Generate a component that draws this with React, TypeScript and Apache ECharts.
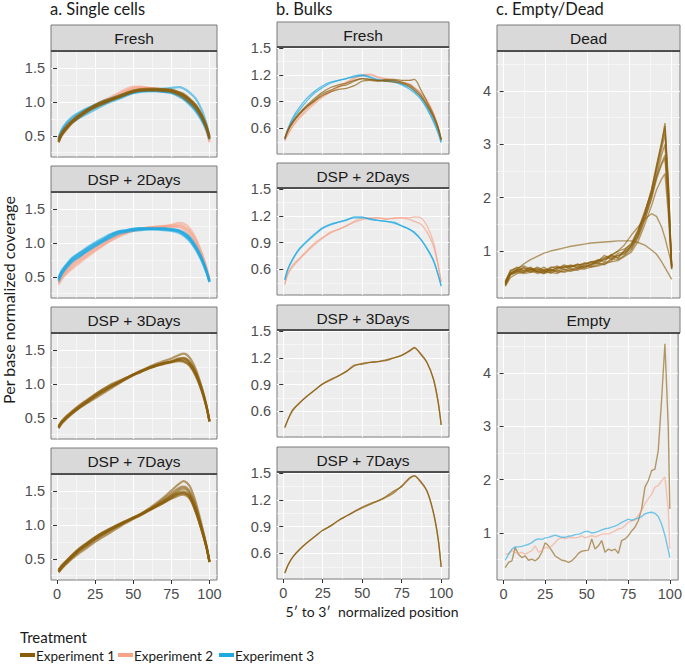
import React, { useEffect, useRef } from 'react';
import * as echarts from 'echarts';

// ---------- categories / labels ----------
const EXPERIMENTS = ['Experiment 1', 'Experiment 2', 'Experiment 3'];
const EXP_COLORS = ['#8B5D0A', '#F7A38A', '#1EA9E1'];
const COLUMN_TITLES = ['a. Single cells', 'b. Bulks', 'c. Empty/Dead'];
const X_MAJOR = [0, 25, 50, 75, 100];
const X_MINOR = [12.5, 37.5, 62.5, 87.5];
const Y_MAJOR_A = [0.5, 1.0, 1.5];
const Y_MINOR_A = [0.25, 0.75, 1.25];
const Y_MAJOR_B = [0.6, 0.9, 1.2, 1.5];
const Y_MINOR_B = [0.45, 0.75, 1.05, 1.35];
const Y_MAJOR_C = [1, 2, 3, 4];
const Y_MINOR_C = [0.5, 1.5, 2.5, 3.5, 4.5];

// ---------- x positions ----------
const XPOS = [1, 3, 6, 10, 15, 20, 25, 30, 35, 40, 45, 50, 55, 60, 65, 70, 75, 80, 83, 87, 91, 95, 98, 100];
const XDEAD = [1, 4, 8, 12, 16, 20, 24, 28, 32, 36, 40, 44, 48, 52, 56, 60, 64, 68, 72, 76, 80, 84, 88, 91, 94, 96, 98, 100];
const XEMPTY = [1, 3, 5, 7, 9, 11, 13, 15, 17, 19, 21, 23, 25, 27, 29, 31, 33, 35, 37, 39, 41, 43, 45, 47, 49, 51, 53, 55, 57, 59, 61, 63, 65, 67, 69, 71, 73, 75, 77, 79, 81, 83, 85, 87, 89, 91, 93, 95, 97, 99, 100];

// ---------- a. Single cells ----------
const cellsFreshExp1 = [
  [0.43,0.52,0.61,0.71,0.80,0.88,0.94,0.99,1.03,1.07,1.12,1.16,1.18,1.18,1.18,1.17,1.16,1.12,1.09,1.02,0.93,0.78,0.63,0.47],
  [0.40,0.50,0.59,0.69,0.78,0.86,0.93,0.98,1.03,1.08,1.13,1.17,1.19,1.19,1.19,1.19,1.18,1.14,1.11,1.04,0.95,0.80,0.64,0.46],
  [0.46,0.55,0.64,0.73,0.82,0.89,0.95,1.00,1.04,1.07,1.11,1.15,1.17,1.17,1.17,1.16,1.15,1.10,1.06,0.99,0.90,0.76,0.61,0.48],
  [0.42,0.53,0.62,0.72,0.81,0.89,0.96,1.01,1.05,1.09,1.13,1.17,1.19,1.20,1.20,1.19,1.18,1.15,1.12,1.05,0.96,0.81,0.65,0.49],
  [0.41,0.51,0.60,0.70,0.79,0.87,0.92,0.97,1.02,1.06,1.11,1.15,1.17,1.18,1.18,1.18,1.17,1.13,1.10,1.03,0.94,0.79,0.62,0.45],
];
const cellsFreshExp2 = [
  [0.42,0.52,0.61,0.71,0.80,0.88,0.95,1.01,1.07,1.13,1.19,1.23,1.23,1.21,1.20,1.19,1.17,1.13,1.09,1.01,0.91,0.76,0.60,0.42],
  [0.40,0.50,0.59,0.69,0.78,0.86,0.93,0.99,1.05,1.10,1.16,1.21,1.22,1.21,1.20,1.18,1.16,1.12,1.08,1.00,0.90,0.74,0.57,0.40],
  [0.43,0.53,0.62,0.72,0.81,0.89,0.96,1.02,1.06,1.11,1.16,1.20,1.21,1.20,1.19,1.18,1.17,1.14,1.10,1.02,0.92,0.77,0.61,0.44],
];
const cellsFreshExp3 = [
  [0.45,0.57,0.67,0.76,0.84,0.90,0.95,0.99,1.03,1.07,1.11,1.14,1.16,1.17,1.17,1.16,1.15,1.11,1.07,0.99,0.89,0.74,0.60,0.46],
  [0.47,0.59,0.69,0.78,0.85,0.91,0.96,1.01,1.05,1.09,1.12,1.15,1.16,1.16,1.16,1.15,1.13,1.08,1.04,0.96,0.86,0.72,0.58,0.45],
  [0.44,0.54,0.63,0.72,0.80,0.86,0.92,0.97,1.02,1.06,1.10,1.14,1.17,1.18,1.19,1.20,1.21,1.22,1.20,1.14,1.05,0.88,0.68,0.50],
  [0.43,0.53,0.62,0.70,0.77,0.83,0.89,0.95,1.00,1.04,1.09,1.13,1.15,1.16,1.16,1.15,1.14,1.10,1.06,0.98,0.88,0.75,0.61,0.47],
];
const cells2DaysExp2 = [
  [0.40,0.48,0.56,0.65,0.74,0.82,0.90,0.97,1.04,1.10,1.15,1.18,1.20,1.22,1.23,1.24,1.25,1.25,1.23,1.16,1.02,0.82,0.62,0.45],
  [0.42,0.50,0.58,0.67,0.76,0.84,0.92,0.99,1.06,1.12,1.16,1.19,1.21,1.23,1.24,1.25,1.27,1.30,1.29,1.22,1.07,0.85,0.64,0.46],
  [0.38,0.46,0.54,0.62,0.71,0.80,0.88,0.96,1.03,1.09,1.14,1.18,1.21,1.23,1.24,1.24,1.24,1.23,1.20,1.12,0.98,0.79,0.60,0.44],
  [0.43,0.52,0.61,0.70,0.79,0.87,0.94,1.01,1.07,1.13,1.17,1.20,1.22,1.23,1.24,1.25,1.26,1.27,1.25,1.18,1.04,0.83,0.63,0.46],
];
const cells2DaysExp3 = [
  [0.46,0.56,0.65,0.75,0.83,0.91,0.98,1.04,1.11,1.16,1.18,1.20,1.21,1.21,1.21,1.21,1.20,1.18,1.14,1.06,0.93,0.76,0.58,0.43],
  [0.43,0.53,0.62,0.72,0.80,0.88,0.95,1.02,1.08,1.13,1.16,1.18,1.19,1.20,1.20,1.19,1.18,1.15,1.11,1.03,0.90,0.73,0.56,0.42],
  [0.49,0.59,0.68,0.78,0.86,0.94,1.01,1.07,1.13,1.17,1.19,1.21,1.22,1.22,1.22,1.22,1.21,1.19,1.16,1.09,0.96,0.78,0.60,0.44],
  [0.45,0.55,0.64,0.74,0.81,0.89,0.96,1.03,1.09,1.15,1.17,1.19,1.20,1.21,1.21,1.20,1.19,1.17,1.13,1.05,0.92,0.74,0.57,0.42],
  [0.47,0.58,0.67,0.77,0.85,0.92,0.99,1.05,1.12,1.17,1.19,1.21,1.22,1.21,1.21,1.21,1.20,1.18,1.15,1.08,0.95,0.77,0.59,0.44],
];
const cells3DaysExp1 = [
  [0.36,0.43,0.50,0.58,0.67,0.75,0.83,0.90,0.96,1.02,1.08,1.14,1.19,1.24,1.28,1.31,1.33,1.36,1.36,1.30,1.15,0.91,0.67,0.45],
  [0.34,0.41,0.48,0.56,0.65,0.73,0.81,0.88,0.95,1.01,1.07,1.13,1.18,1.23,1.27,1.30,1.33,1.37,1.38,1.32,1.17,0.92,0.67,0.44],
  [0.38,0.45,0.52,0.60,0.69,0.77,0.85,0.92,0.98,1.03,1.09,1.14,1.19,1.23,1.27,1.30,1.32,1.34,1.33,1.27,1.12,0.89,0.66,0.45],
  [0.35,0.42,0.49,0.57,0.66,0.74,0.82,0.89,0.96,1.02,1.08,1.14,1.20,1.25,1.30,1.34,1.38,1.43,1.45,1.39,1.22,0.95,0.69,0.46],
  [0.36,0.43,0.50,0.57,0.65,0.72,0.79,0.86,0.93,1.00,1.07,1.13,1.18,1.23,1.27,1.31,1.34,1.38,1.39,1.33,1.18,0.93,0.68,0.44],
  [0.37,0.44,0.51,0.59,0.68,0.76,0.84,0.92,0.99,1.04,1.09,1.14,1.19,1.24,1.28,1.31,1.33,1.35,1.34,1.28,1.13,0.90,0.66,0.45],
];
const cells7DaysExp1 = [
  [0.32,0.38,0.45,0.54,0.64,0.72,0.80,0.87,0.93,0.99,1.05,1.10,1.16,1.22,1.28,1.35,1.43,1.49,1.50,1.44,1.22,0.93,0.68,0.46],
  [0.30,0.36,0.43,0.52,0.62,0.70,0.78,0.85,0.92,0.98,1.04,1.10,1.16,1.23,1.30,1.38,1.47,1.55,1.57,1.50,1.28,0.96,0.69,0.45],
  [0.34,0.40,0.47,0.56,0.66,0.74,0.82,0.89,0.95,1.01,1.06,1.11,1.16,1.21,1.27,1.33,1.39,1.44,1.45,1.39,1.19,0.91,0.67,0.46],
  [0.31,0.37,0.44,0.53,0.63,0.71,0.79,0.86,0.93,0.99,1.05,1.11,1.17,1.24,1.32,1.41,1.51,1.61,1.65,1.58,1.34,0.99,0.70,0.46],
  [0.33,0.39,0.46,0.55,0.65,0.73,0.81,0.88,0.94,1.00,1.06,1.11,1.16,1.22,1.28,1.34,1.41,1.47,1.47,1.41,1.20,0.92,0.67,0.45],
  [0.30,0.35,0.42,0.50,0.59,0.67,0.75,0.82,0.89,0.96,1.03,1.09,1.15,1.22,1.29,1.36,1.44,1.52,1.54,1.47,1.25,0.95,0.69,0.46],
  [0.32,0.39,0.46,0.55,0.65,0.74,0.82,0.89,0.95,1.00,1.05,1.10,1.15,1.21,1.27,1.33,1.40,1.46,1.48,1.42,1.21,0.92,0.67,0.45],
];

// ---------- b. Bulks ----------
const bulkFreshExp1 = [
  [0.49,0.57,0.67,0.76,0.85,0.92,0.99,1.03,1.07,1.09,1.13,1.16,1.15,1.14,1.14,1.14,1.12,1.09,1.05,0.98,0.87,0.74,0.61,0.48],
  [0.49,0.58,0.66,0.75,0.84,0.91,0.97,1.01,1.04,1.05,1.08,1.13,1.14,1.13,1.15,1.15,1.14,1.14,1.15,1.04,0.90,0.76,0.62,0.48],
  [0.48,0.59,0.68,0.77,0.86,0.94,1.01,1.06,1.09,1.11,1.14,1.16,1.15,1.14,1.13,1.12,1.11,1.07,1.03,0.96,0.86,0.73,0.60,0.47],
];
const bulkFreshExp2 = [
  [0.47,0.54,0.63,0.72,0.82,0.90,0.97,1.02,1.07,1.12,1.17,1.20,1.21,1.18,1.16,1.14,1.12,1.10,1.06,1.01,0.92,0.78,0.62,0.47],
  [0.46,0.53,0.62,0.71,0.80,0.88,0.95,1.01,1.06,1.11,1.16,1.19,1.20,1.17,1.15,1.13,1.11,1.08,1.05,0.99,0.90,0.76,0.60,0.46],
];
const bulkFreshExp3 = [
  [0.49,0.60,0.72,0.83,0.94,1.02,1.08,1.12,1.14,1.16,1.19,1.20,1.18,1.15,1.14,1.13,1.10,1.06,1.02,0.95,0.84,0.70,0.57,0.45],
  [0.48,0.58,0.70,0.80,0.91,1.00,1.06,1.11,1.14,1.16,1.18,1.19,1.17,1.14,1.13,1.12,1.09,1.04,1.00,0.93,0.82,0.68,0.55,0.44],
];
const bulk2DaysExp2 = [
  [0.43,0.56,0.65,0.72,0.81,0.90,0.96,1.02,1.05,1.09,1.14,1.18,1.18,1.18,1.16,1.18,1.18,1.16,1.14,1.11,1.02,0.87,0.65,0.46],
  [0.44,0.55,0.63,0.71,0.80,0.88,0.95,1.01,1.05,1.09,1.13,1.16,1.17,1.18,1.17,1.17,1.18,1.18,1.19,1.18,1.09,0.91,0.66,0.46],
];
const bulk2DaysExp3 = [
  [0.49,0.61,0.72,0.83,0.92,1.00,1.07,1.11,1.13,1.15,1.19,1.19,1.16,1.15,1.14,1.13,1.09,1.05,1.02,0.94,0.83,0.70,0.54,0.41],
  [0.48,0.60,0.71,0.82,0.91,0.99,1.06,1.10,1.13,1.16,1.18,1.18,1.17,1.15,1.14,1.12,1.09,1.05,1.01,0.94,0.84,0.71,0.55,0.42],
];
const bulk3DaysExp1 = [
  [0.42,0.51,0.62,0.69,0.77,0.84,0.91,0.96,1.00,1.05,1.11,1.14,1.15,1.16,1.17,1.20,1.23,1.28,1.32,1.24,1.15,0.97,0.71,0.45],
  [0.42,0.51,0.61,0.69,0.77,0.84,0.91,0.95,1.00,1.05,1.12,1.13,1.15,1.16,1.18,1.20,1.23,1.28,1.31,1.25,1.15,0.97,0.72,0.45],
];
const bulk7DaysExp1 = [
  [0.38,0.47,0.56,0.64,0.72,0.79,0.86,0.91,0.97,1.02,1.07,1.12,1.16,1.19,1.23,1.28,1.36,1.45,1.47,1.40,1.30,1.06,0.77,0.45],
  [0.38,0.47,0.56,0.64,0.72,0.79,0.86,0.91,0.97,1.02,1.07,1.11,1.15,1.19,1.24,1.30,1.35,1.44,1.47,1.41,1.30,1.07,0.78,0.45],
];

// ---------- c. Empty/Dead ----------
const deadExp1 = [
  [0.38,0.60,0.66,0.62,0.68,0.60,0.64,0.58,0.66,0.72,0.66,0.70,0.78,0.74,0.80,0.92,0.84,0.96,0.98,1.08,1.30,1.65,2.10,2.55,3.00,3.40,2.30,0.68],
  [0.35,0.55,0.62,0.70,0.60,0.66,0.60,0.65,0.62,0.70,0.74,0.68,0.72,0.80,0.76,0.86,0.90,0.88,1.00,1.10,1.35,1.70,2.15,2.60,3.00,3.30,2.20,0.70],
  [0.42,0.62,0.70,0.64,0.70,0.62,0.58,0.68,0.72,0.64,0.70,0.76,0.70,0.74,0.84,0.80,0.94,0.86,1.02,1.15,1.40,1.75,2.10,2.50,2.90,3.20,2.10,0.66],
  [0.34,0.50,0.58,0.60,0.64,0.58,0.62,0.60,0.58,0.66,0.62,0.66,0.74,0.70,0.74,0.78,0.82,0.92,0.96,1.05,1.28,1.60,2.00,2.40,2.80,3.00,2.00,0.70],
  [0.40,0.58,0.64,0.68,0.66,0.64,0.70,0.62,0.70,0.68,0.72,0.72,0.68,0.76,0.80,0.84,0.88,0.92,0.94,1.10,1.35,1.68,2.05,2.40,2.65,2.80,1.90,0.72],
  [0.36,0.56,0.60,0.64,0.62,0.70,0.64,0.66,0.60,0.62,0.66,0.64,0.70,0.72,0.78,0.74,0.86,0.84,0.92,1.02,1.25,1.58,1.98,2.35,2.62,2.75,1.85,0.68],
  [0.38,0.58,0.62,0.58,0.60,0.62,0.58,0.62,0.64,0.60,0.64,0.68,0.66,0.70,0.72,0.76,0.80,0.82,0.90,0.98,1.18,1.50,1.85,2.15,2.35,2.45,1.70,0.66],
  [0.44,0.64,0.68,0.72,0.66,0.68,0.62,0.70,0.68,0.74,0.70,0.74,0.76,0.78,0.82,0.88,0.92,1.00,1.04,1.12,1.38,1.72,2.15,2.60,3.05,3.35,2.25,0.72],
  [0.42,0.56,0.66,0.76,0.84,0.90,0.96,1.00,1.03,1.06,1.09,1.11,1.13,1.15,1.16,1.17,1.18,1.19,1.19,1.19,1.16,1.11,1.02,0.94,0.80,0.69,0.58,0.47],
  [0.40,0.58,0.64,0.60,0.66,0.62,0.66,0.64,0.68,0.70,0.72,0.74,0.76,0.80,0.82,0.85,0.92,1.00,1.12,1.30,1.45,1.60,1.70,1.65,1.45,1.25,1.00,0.75],
];
const emptyExp1 = [0.35,0.45,0.48,0.73,0.60,0.54,0.57,0.49,0.51,0.48,0.53,0.64,0.82,0.76,0.67,0.57,0.53,0.49,0.48,0.45,0.48,0.54,0.62,0.66,0.67,0.68,0.89,0.70,0.76,0.86,0.64,0.70,0.67,0.70,0.62,0.86,0.89,0.95,1.04,1.11,1.23,1.45,1.86,1.98,2.17,2.20,2.55,3.50,4.55,3.00,1.45];
const emptyExp2 = [0.60,0.62,0.67,0.64,0.62,0.64,0.60,0.64,0.67,0.76,0.64,0.67,0.73,0.72,0.76,0.82,0.89,0.91,0.89,0.91,0.92,0.91,0.92,0.95,0.91,0.93,0.95,0.93,0.95,0.98,0.99,0.98,1.01,1.04,1.08,1.09,1.14,1.20,1.23,1.24,1.33,1.42,1.55,1.64,1.73,1.86,1.89,1.98,2.05,1.45,0.70];
const emptyExp3 = [0.49,0.60,0.70,0.74,0.74,0.75,0.77,0.79,0.82,0.87,0.89,0.88,0.91,0.92,0.94,0.96,0.94,0.92,0.92,0.94,0.95,0.97,0.98,1.00,1.03,1.03,1.00,1.01,1.03,1.06,1.08,1.09,1.11,1.13,1.16,1.20,1.23,1.26,1.24,1.26,1.28,1.31,1.36,1.38,1.39,1.37,1.31,1.17,0.96,0.68,0.54];

// ---------- panel structure ----------
type Group = { exp: number; lines: number[][] };
type Panel = { col: number; row: number; label: string; xs: number[]; groups: Group[]; smooth: number | boolean };

const PANELS: Panel[] = [
  { col: 0, row: 0, label: 'Fresh', xs: XPOS, smooth: 0.3, groups: [{ exp: 1, lines: cellsFreshExp2 }, { exp: 2, lines: cellsFreshExp3 }, { exp: 0, lines: cellsFreshExp1 }] },
  { col: 0, row: 1, label: 'DSP + 2Days', xs: XPOS, smooth: 0.3, groups: [{ exp: 1, lines: cells2DaysExp2 }, { exp: 2, lines: cells2DaysExp3 }] },
  { col: 0, row: 2, label: 'DSP + 3Days', xs: XPOS, smooth: 0.3, groups: [{ exp: 0, lines: cells3DaysExp1 }] },
  { col: 0, row: 3, label: 'DSP + 7Days', xs: XPOS, smooth: 0.3, groups: [{ exp: 0, lines: cells7DaysExp1 }] },
  { col: 1, row: 0, label: 'Fresh', xs: XPOS, smooth: 0.3, groups: [{ exp: 1, lines: bulkFreshExp2 }, { exp: 2, lines: bulkFreshExp3 }, { exp: 0, lines: bulkFreshExp1 }] },
  { col: 1, row: 1, label: 'DSP + 2Days', xs: XPOS, smooth: 0.3, groups: [{ exp: 1, lines: bulk2DaysExp2 }, { exp: 2, lines: bulk2DaysExp3 }] },
  { col: 1, row: 2, label: 'DSP + 3Days', xs: XPOS, smooth: 0.3, groups: [{ exp: 0, lines: bulk3DaysExp1 }] },
  { col: 1, row: 3, label: 'DSP + 7Days', xs: XPOS, smooth: 0.3, groups: [{ exp: 0, lines: bulk7DaysExp1 }] },
  { col: 2, row: 0, label: 'Dead', xs: XDEAD, smooth: false, groups: [{ exp: 0, lines: deadExp1 }] },
  { col: 2, row: 1, label: 'Empty', xs: XEMPTY, smooth: false, groups: [{ exp: 0, lines: [emptyExp1] }, { exp: 1, lines: [emptyExp2] }, { exp: 2, lines: [emptyExp3] }] },
];

// ---------- layout ----------
const COLS = [
  { left: 51, width: 166, stripTops: [25, 166, 307, 448], stripH: 26, plotH: 106, yMin: 0.185, yMax: 1.757, yMajor: Y_MAJOR_A, yMinor: Y_MINOR_A, dec: 1, lw: 2.2, op: 0.6 },
  { left: 277, width: 172, stripTops: [22, 163, 305, 447], stripH: 25, plotH: 107, yMin: 0.314, yMax: 1.514, yMajor: Y_MAJOR_B, yMinor: Y_MINOR_B, dec: 1, lw: 1.3, op: 0.7 },
  { left: 497, width: 183, stripTops: [25, 307], stripH: 26, plotH: 247, yMin: 0.12, yMax: 4.75, yMajor: Y_MAJOR_C, yMinor: Y_MINOR_C, dec: 0, lw: 1.4, op: 0.6 },
];
const X_MIN = -3.95;
const X_MAX = 104.95;

const SANS = '"Liberation Sans", Arial, sans-serif';
const HUM = 'Lato, "Noto Sans", sans-serif';

function buildOption() {
  const grid: any[] = [];
  const xAxis: any[] = [];
  const yAxis: any[] = [];
  const series: any[] = [];
  const graphic: any[] = [];
  const tickLabel = { color: '#4D4D4D', fontSize: 14.5, fontFamily: SANS };

  PANELS.forEach((p, g) => {
    const c = COLS[p.col];
    const stripTop = c.stripTops[p.row];
    const top = stripTop + c.stripH;
    const isBottom = p.row === c.stripTops.length - 1;
    grid.push({ left: c.left, top, width: c.width, height: c.plotH, show: true, backgroundColor: '#EDEDED', borderColor: '#7A7A7A', borderWidth: 1 });
    xAxis.push({
      gridIndex: g, type: 'value', min: X_MIN, max: X_MAX, position: 'bottom',
      axisLine: { show: false },
      axisTick: { show: isBottom, customValues: X_MAJOR, length: 4, lineStyle: { color: '#333333', width: 1 } },
      axisLabel: { show: isBottom, customValues: X_MAJOR, margin: 6, ...tickLabel },
      splitLine: { show: true, lineStyle: { color: '#FFFFFF', width: 1 } },
    });
    xAxis.push({
      gridIndex: g, type: 'value', min: X_MIN, max: X_MAX, position: 'top',
      axisLine: { show: false },
      axisTick: { show: false, customValues: X_MINOR },
      axisLabel: { show: false },
      splitLine: { show: true, lineStyle: { color: '#FFFFFF', width: 0.5 } },
    });
    yAxis.push({
      gridIndex: g, type: 'value', min: c.yMin, max: c.yMax, position: 'left',
      axisLine: { show: false },
      axisTick: { show: true, customValues: c.yMajor, length: 4, lineStyle: { color: '#333333', width: 1 } },
      axisLabel: { show: true, customValues: c.yMajor, margin: 6, ...tickLabel, formatter: (v: number) => v.toFixed(c.dec) },
      splitLine: { show: true, lineStyle: { color: '#FFFFFF', width: 1 } },
    });
    yAxis.push({
      gridIndex: g, type: 'value', min: c.yMin, max: c.yMax, position: 'right',
      axisLine: { show: false },
      axisTick: { show: false, customValues: c.yMinor },
      axisLabel: { show: false },
      splitLine: { show: true, lineStyle: { color: '#FFFFFF', width: 0.5 } },
    });
    p.groups.forEach((gr) => {
      gr.lines.forEach((line) => {
        series.push({
          type: 'line', name: EXPERIMENTS[gr.exp], xAxisIndex: 2 * g, yAxisIndex: 2 * g,
          data: p.xs.map((x, i) => [x, line[i]]),
          showSymbol: false, symbol: 'none', smooth: p.smooth, silent: true,
          lineStyle: { color: EXP_COLORS[gr.exp], width: c.lw, opacity: c.op },
          itemStyle: { color: EXP_COLORS[gr.exp] },
        });
      });
    });
    // strip
    graphic.push({ type: 'rect', shape: { x: c.left, y: stripTop, width: c.width, height: c.stripH }, style: { fill: '#D9D9D9', stroke: '#7A7A7A', lineWidth: 1 }, z: 10 });
    graphic.push({ type: 'line', shape: { x1: c.left, y1: top, x2: c.left + c.width, y2: top }, style: { stroke: '#333333', lineWidth: 1.5 }, z: 11 });
    graphic.push({ type: 'text', x: c.left + c.width / 2, y: stripTop + c.stripH / 2 + 0.5, style: { text: p.label, fontSize: 15.5, fontFamily: SANS, fill: '#1A1A1A', align: 'center', verticalAlign: 'middle' }, z: 12 });
  });

  // column titles
  COLUMN_TITLES.forEach((t, i) => {
    graphic.push({ type: 'text', x: COLS[i].left - 1, y: 9, style: { text: t, fontSize: 16.5, fontFamily: HUM, fill: '#1A1A1A', align: 'left', verticalAlign: 'middle' }, z: 12 });
  });
  // axis titles
  graphic.push({ type: 'text', x: 8, y: 300, rotation: Math.PI / 2, style: { text: 'Per base normalized coverage', fontSize: 16, fontFamily: HUM, fill: '#1A1A1A', align: 'center', verticalAlign: 'middle' }, z: 12 });
  graphic.push({ type: 'text', x: 372, y: 611, style: { text: '5\u2032 to 3\u2032  normalized position', fontSize: 14, fontFamily: HUM, fill: '#1A1A1A', align: 'center', verticalAlign: 'middle' }, z: 12 });
  // legend
  graphic.push({ type: 'text', x: 20, y: 637, style: { text: 'Treatment', fontSize: 15, fontFamily: HUM, fill: '#1A1A1A', align: 'left', verticalAlign: 'middle' }, z: 12 });
  const legendX = [20, 118, 219];
  EXPERIMENTS.forEach((name, i) => {
    graphic.push({ type: 'rect', shape: { x: legendX[i], y: 653, width: 15, height: 4 }, style: { fill: EXP_COLORS[i] }, z: 12 });
    graphic.push({ type: 'text', x: legendX[i] + 16, y: 655.5, style: { text: name, fontSize: 13.5, fontFamily: HUM, fill: '#1A1A1A', align: 'left', verticalAlign: 'middle' }, z: 12 });
  });

  return { animation: false, backgroundColor: '#FFFFFF', grid, xAxis, yAxis, series, graphic };
}

export default function App() {
  const ref = useRef<HTMLDivElement>(null);
  useEffect(() => {
    if (!ref.current) return;
    const chart = echarts.init(ref.current, null, { renderer: 'svg' });
    chart.setOption(buildOption() as any);
    return () => chart.dispose();
  }, []);
  return <div ref={ref} style={{ position: 'absolute', left: 0, top: 0, width: 685, height: 665 }} />;
}
